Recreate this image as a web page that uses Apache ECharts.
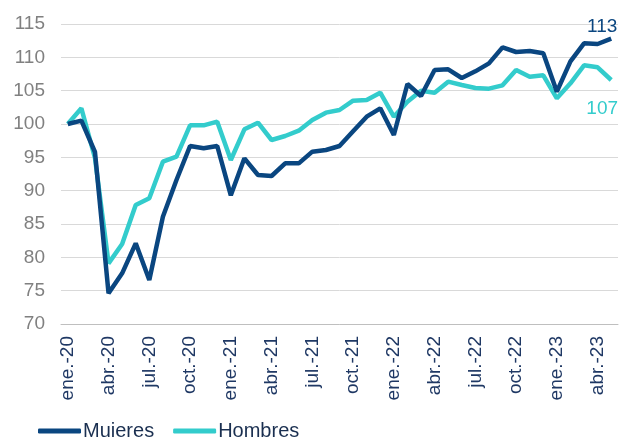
<!DOCTYPE html>
<html>
<head>
<meta charset="utf-8">
<script src="https://cdn.jsdelivr.net/npm/echarts@6/dist/echarts.min.js"></script>
<style>
  html, body { margin: 0; padding: 0; background: #fff; }
  #chart { width: 623px; height: 437px; }
</style>
</head>
<body>
<div id="chart"></div>
<script>
const months = ['ene.', 'feb.', 'mar.', 'abr.', 'may.', 'jun.', 'jul.', 'ago.', 'sep.', 'oct.', 'nov.', 'dic.'];
const categories = [];
for (let y = 20; y <= 23; y++) {
  months.forEach(m => categories.push(m + '-' + y));
}
categories.length = 41; // ene.-20 .. may.-23

const mujeres = [100, 100.5, 95.8, 74.6, 77.6, 82.1, 76.6, 86.1, 91.6, 96.7, 96.35, 96.7,
  89.3, 94.85, 92.35, 92.2, 94.1, 94.1, 95.85, 96.1, 96.7, 98.9, 101.1, 102.35,
  98.35, 106, 104.2, 108.1, 108.2, 106.9, 107.9, 109.1, 111.5, 110.8, 110.95, 110.6,
  104.85, 109.4, 112.1, 112, 112.8];
const hombres = [100, 102.35, 94.9, 79.1, 82, 87.85, 88.85, 94.35, 95.1, 99.8, 99.8, 100.35,
  94.6, 99.2, 100.2, 97.6, 98.2, 99, 100.6, 101.7, 102.1, 103.5, 103.6, 104.7,
  101.1, 103.35, 105, 104.7, 106.35, 105.85, 105.4, 105.3, 105.8, 108.1, 107.1, 107.3,
  103.85, 106.1, 108.8, 108.5, 106.6];
const endLabels = ['113', '107'];

const navy = '#0a4680';
const cyan = '#33cccc';

function withEndLabel(values, text, color, pos) {
  return values.map((v, i) => i === values.length - 1 ? {
    value: v,
    label: {
      show: true, position: pos, distance: pos === 'top' ? 2 : 19, offset: [-9, 0],
      formatter: text, color: color, fontSize: 19, fontFamily: 'Liberation Sans'
    }
  } : v);
}

const chart = echarts.init(document.getElementById('chart'));
chart.setOption({
  animation: false,
  textStyle: { fontFamily: 'Liberation Sans' },
  grid: { left: 61, right: 5, top: 24, bottom: 113 },
  legend: {
    left: 33, top: 416, itemGap: 19, itemWidth: 43, itemHeight: 5,
    icon: 'roundRect',
    textStyle: { color: '#1a2f50', fontSize: 20, fontFamily: 'Liberation Sans', padding: [0, 0, 0, -3] },
    data: ['Mujeres', 'Hombres']
  },
  xAxis: {
    type: 'category', data: categories, boundaryGap: true,
    axisLine: { lineStyle: { color: '#bfbfbf', width: 1 } },
    axisTick: { interval: 2, length: 5, lineStyle: { color: '#bfbfbf' } },
    axisLabel: { interval: 2, rotate: 90, fontSize: 19, color: '#1f3864', margin: 12 }
  },
  yAxis: {
    type: 'value', min: 70, max: 115, interval: 5,
    axisLine: { show: false }, axisTick: { show: false },
    axisLabel: { fontSize: 19, color: '#808080', margin: 16 },
    splitLine: { lineStyle: { color: '#d9d9d9', width: 1 } }
  },
  series: [
    {
      name: 'Mujeres', type: 'line', data: withEndLabel(mujeres, endLabels[0], navy, 'top'),
      symbol: 'circle', symbolSize: 0, lineStyle: { color: navy, width: 4.5 }, itemStyle: { color: navy }, z: 3
    },
    {
      name: 'Hombres', type: 'line', data: withEndLabel(hombres, endLabels[1], cyan, 'bottom'),
      symbol: 'circle', symbolSize: 0, lineStyle: { color: cyan, width: 4.5 }, itemStyle: { color: cyan }, z: 2
    }
  ]
});
</script>
</body>
</html>
